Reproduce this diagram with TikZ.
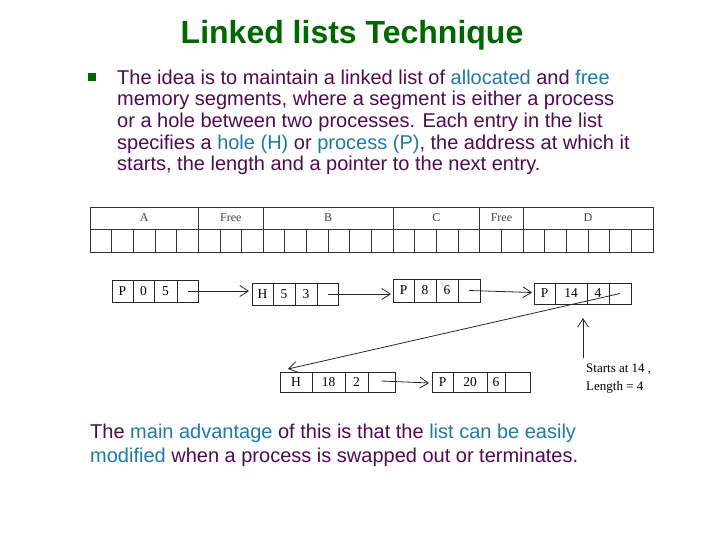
\documentclass[tikz,border=0pt]{standalone}
\usepackage{fontspec}
\setmainfont{Liberation Sans}
\newfontfamily\timesf{Liberation Serif}
\usetikzlibrary{arrows.meta}
\definecolor{ttlgreen}{RGB}{0,102,0}
\definecolor{txtpurple}{RGB}{80,10,80}
\definecolor{hiblue}{RGB}{30,120,170}
\begin{document}
\begin{tikzpicture}[x=1pt,y=-1pt,
  cell/.style={draw=black!85, line width=0.8pt, inner sep=0pt, outer sep=0pt, anchor=west,
    font=\timesf\fontsize{13.5}{13.5}\selectfont},
  seg/.style={draw=black!80, line width=0.8pt, inner sep=0pt, outer sep=0pt, anchor=north west,
    minimum height=22pt, font=\timesf\fontsize{12}{12}\selectfont, text=black!75},
  barcell/.style={draw=black!80, line width=0.8pt, inner sep=0pt, outer sep=0pt, anchor=north west,
    minimum height=23pt, minimum width=21.654pt},
  arr/.style={draw=black!85, line width=0.8pt, -{Straight Barb[length=8.5pt,width=11pt]}}
]
\useasboundingbox (0,0) rectangle (720,540);

% title
\node[font=\bfseries\fontsize{32}{36}\selectfont, text=ttlgreen] (title) at (352,35) {Linked lists Technique};

% bullet and body
\node[fill=ttlgreen, minimum size=8pt, inner sep=0pt] (bullet) at (92,77) {};
\node[anchor=north west, align=left, inner sep=0pt, text=txtpurple,
  font=\fontsize{20}{21.7}\selectfont] (body) at (117,69.5) {%
The idea is to maintain a linked list of \textcolor{hiblue}{allocated} and \textcolor{hiblue}{free}\\
memory segments, where a segment is either a process\\
or a hole between two processes. Each entry in the list\\
specifies a \textcolor{hiblue}{hole (H)} or \textcolor{hiblue}{process (P)}, the address at which it\\
starts, the length and a pointer to the next entry.};

% memory bar
\node[seg, minimum width=108.27pt] (sA) at (90,207) {A};
\node[seg, minimum width=64.96pt] (sF1) at (sA.north east) {Free};
\node[seg, minimum width=129.92pt] (sB) at (sF1.north east) {B};
\node[seg, minimum width=86.62pt] (sC) at (sB.north east) {C};
\node[seg, minimum width=43.31pt] (sF2) at (sC.north east) {Free};
\node[seg, minimum width=129.92pt] (sD) at (sF2.north east) {D};
\foreach \i in {0,...,25}
  \node[barcell] (m\i) at ({90+\i*21.654},229) {};

% entry 1
\node[cell, minimum height=22pt, minimum width=21pt] (e1a) at (112,291) {P};
\node[cell, minimum height=22pt, minimum width=21pt] (e1b) at (e1a.east) {0};
\node[cell, minimum height=22pt, minimum width=23pt] (e1c) at (e1b.east) {5};
\node[cell, minimum height=22pt, minimum width=21pt] (e1d) at (e1c.east) {};
% entry 2
\node[cell, minimum height=22pt, minimum width=21pt] (e2a) at (252,294) {H};
\node[cell, minimum height=22pt, minimum width=22pt] (e2b) at (e2a.east) {5};
\node[cell, minimum height=22pt, minimum width=22pt] (e2c) at (e2b.east) {3};
\node[cell, minimum height=22pt, minimum width=21pt] (e2d) at (e2c.east) {};
% entry 3
\node[cell, minimum height=23pt, minimum width=21pt] (e3a) at (393,290.5) {P};
\node[cell, minimum height=23pt, minimum width=22pt] (e3b) at (e3a.east) {8};
\node[cell, minimum height=23pt, minimum width=22pt] (e3c) at (e3b.east) {6};
\node[cell, minimum height=23pt, minimum width=22pt] (e3d) at (e3c.east) {};
% entry 4
\node[cell, minimum height=21pt, minimum width=21pt] (e4a) at (534,293.5) {P};
\node[cell, minimum height=21pt, minimum width=32pt] (e4b) at (e4a.east) {14};
\node[cell, minimum height=21pt, minimum width=22pt] (e4c) at (e4b.east) {4};
\node[cell, minimum height=21pt, minimum width=22pt] (e4d) at (e4c.east) {};
% entry 5
\node[cell, minimum height=20pt, minimum width=32pt] (e5a) at (280,382) {H};
\node[cell, minimum height=20pt, minimum width=33pt] (e5b) at (e5a.east) {18};
\node[cell, minimum height=20pt, minimum width=23pt] (e5c) at (e5b.east) {2};
\node[cell, minimum height=20pt, minimum width=27pt] (e5d) at (e5c.east) {};
% entry 6
\node[cell, minimum height=20pt, minimum width=21pt] (e6a) at (432,382) {P};
\node[cell, minimum height=20pt, minimum width=34pt] (e6b) at (e6a.east) {20};
\node[cell, minimum height=20pt, minimum width=18pt] (e6c) at (e6b.east) {6};
\node[cell, minimum height=20pt, minimum width=25pt] (e6d) at (e6c.east) {};

% pointers
\draw[arr] (e1d.center) -- ([xshift=-3pt]e1d.center -| e2a.west);
\draw[arr] (e2d.center) -- ([xshift=-2pt]e2d.center -| e3a.west);
\draw[arr] (e3d.center) -- ([xshift=-2pt,yshift=1pt]e4a.west);
\draw[arr] (e4d.center) -- ([xshift=-8pt,yshift=3pt]e5a.north);
\draw[arr] ([yshift=1pt]e5d.center) -- ([xshift=-3pt,yshift=-1pt]e6a.west);

% note
\node[anchor=north west, align=left, inner sep=0pt,
  font=\timesf\fontsize{13}{18}\selectfont] (note) at (586,364) {Starts at 14 ,\\Length = 4};
\coordinate (vtip) at (583,318);
\draw[arr] ([xshift=-3pt,yshift=6pt]note.north west) -- (vtip);

% bottom text
\node[anchor=north west, align=left, inner sep=0pt, text=txtpurple,
  font=\fontsize{20}{24}\selectfont] (bottom) at (90,423.5) {%
The \textcolor{hiblue}{main advantage} of this is that the \textcolor{hiblue}{list can be easily}\\
\textcolor{hiblue}{modified} when a process is swapped out or terminates.};
\end{tikzpicture}
\end{document}
